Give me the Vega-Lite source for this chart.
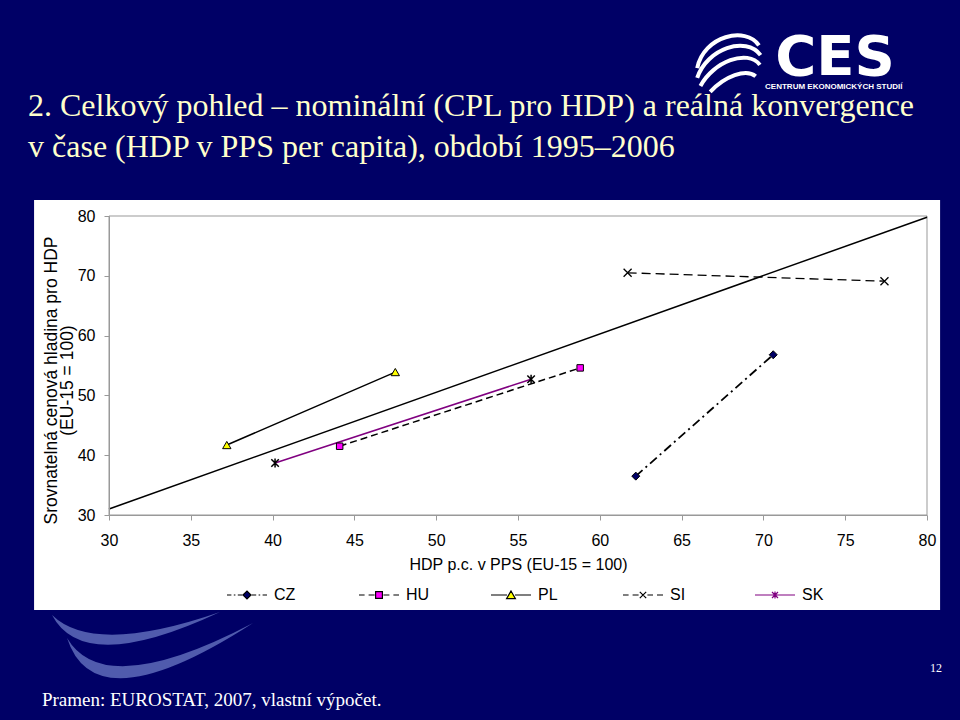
{
  "$schema": "https://vega.github.io/schema/vega-lite/v6.json",
  "width": 818,
  "height": 299,
  "autosize": {"type": "none"},
  "padding": {"left": 109, "top": 216, "right": 33, "bottom": 205},
  "background": "#000066",
  "config": {"view": {"stroke": null}, "font": "Liberation Sans"},
  "resolve": {"axis": {"x": "independent", "y": "independent"}},
  "datasets": {
    "pts": [
      {"country": "CZ", "year": 1995, "hdp": 62.2, "cpl": 36.5},
      {"country": "CZ", "year": 2006, "hdp": 70.6, "cpl": 56.8},
      {"country": "HU", "year": 1995, "hdp": 44.1, "cpl": 41.5},
      {"country": "HU", "year": 2006, "hdp": 58.8, "cpl": 54.6},
      {"country": "PL", "year": 1995, "hdp": 37.2, "cpl": 41.7},
      {"country": "PL", "year": 2006, "hdp": 47.5, "cpl": 53.9},
      {"country": "SI", "year": 1995, "hdp": 61.7, "cpl": 70.5},
      {"country": "SI", "year": 2006, "hdp": 77.4, "cpl": 69.1},
      {"country": "SK", "year": 1995, "hdp": 40.15, "cpl": 38.7},
      {"country": "SK", "year": 2006, "hdp": 55.8, "cpl": 52.7}
    ],
    "trend": [
      {"hdp": 30, "cpl": 31.0},
      {"hdp": 80, "cpl": 79.8}
    ]
  },
  "layer": [
    {
      "data": {"values": [{}]},
      "mark": {"type": "point", "filled": true, "fill": "#7282cc", "strokeWidth": 0, "size": 28224, "shape": "M-1,-0.155Q-0.62,0.57 1,-0.19Q-0.5,0.33 -1,-0.155Z"},
      "encoding": {
        "x": {"datum": 31.65, "type": "quantitative", "scale": {"domain": [30, 80], "nice": false, "zero": false}, "axis": null},
        "y": {"datum": 11.1, "type": "quantitative", "scale": {"domain": [30, 80], "nice": false, "zero": false}, "axis": null}
      }
    },
    {
      "data": {"values": [{}]},
      "mark": {"type": "point", "filled": true, "fill": "#7282cc", "strokeWidth": 0, "size": 34596, "shape": "M-1,-0.13Q-0.7,0.81 1,-0.29Q-0.6,0.55 -1,-0.13Z"},
      "encoding": {
        "x": {"datum": 33.12, "type": "quantitative", "scale": {"domain": [30, 80], "nice": false, "zero": false}, "axis": null},
        "y": {"datum": 7.42, "type": "quantitative", "scale": {"domain": [30, 80], "nice": false, "zero": false}, "axis": null}
      }
    },
    {
      "data": {"values": [{}]},
      "mark": {"type": "rect", "fill": "#FFFFFF"},
      "encoding": {
        "x": {"datum": 25.42, "type": "quantitative", "scale": {"domain": [30, 80], "nice": false, "zero": false}, "axis": null},
        "x2": {"datum": 80.8},
        "y": {"datum": 82.68, "type": "quantitative", "scale": {"domain": [30, 80], "nice": false, "zero": false}, "axis": null},
        "y2": {"datum": 14.11}
      }
    },
    {
      "data": {"values": [{}]},
      "mark": {"type": "rect", "filled": false, "fill": null, "stroke": "#999999", "strokeWidth": 1},
      "encoding": {
        "x": {"datum": 30, "type": "quantitative", "scale": {"domain": [30, 80], "nice": false, "zero": false}, "axis": null},
        "x2": {"datum": 80},
        "y": {"datum": 30, "type": "quantitative", "scale": {"domain": [30, 80], "nice": false, "zero": false}, "axis": null},
        "y2": {"datum": 80}
      }
    },
    {
      "data": {"name": "trend"},
      "mark": {"type": "line", "color": "#000000", "strokeWidth": 1.5},
      "encoding": {
        "x": {
          "field": "hdp", "type": "quantitative",
          "scale": {"domain": [30, 80], "nice": false, "zero": false},
          "axis": {
            "orient": "bottom",
            "values": [30, 35, 40, 45, 50, 55, 60, 65, 70, 75, 80],
            "title": "HDP p.c. v PPS (EU-15 = 100)",
            "grid": false, "domainColor": "#999999", "tickColor": "#999999", "tickSize": 5,
            "labelFontSize": 16, "labelColor": "#000000", "labelFont": "Liberation Sans", "labelPadding": 12,
            "labelFlush": false, "labelOverlap": false,
            "titleFont": "Liberation Sans", "titleFontSize": 16, "titleFontWeight": "normal", "titleColor": "#000000", "titlePadding": 8,
            "zindex": 1
          }
        },
        "y": {
          "field": "cpl", "type": "quantitative",
          "scale": {"domain": [30, 80], "nice": false, "zero": false},
          "axis": {
            "orient": "left",
            "values": [30, 40, 50, 60, 70, 80],
            "title": ["Srovnatelná cenová hladina pro HDP", "(EU-15 = 100)"],
            "grid": false, "domainColor": "#999999", "tickColor": "#999999", "tickSize": 5,
            "labelFontSize": 16, "labelColor": "#000000", "labelFont": "Liberation Sans", "labelPadding": 9,
            "labelFlush": false,
            "titleFont": "Liberation Sans", "titleFontSize": 17.5, "titleFontWeight": "normal", "titleColor": "#000000",
            "titleX": -49, "titleY": 164, "titleAlign": "center", "titleBaseline": "bottom", "titleLineHeight": 16,
            "zindex": 1
          }
        }
      }
    },
    {
      "data": {"name": "pts"},
      "transform": [{"filter": "datum.country === 'CZ'"}],
      "mark": {"type": "line", "color": "#000000", "strokeWidth": 1.8, "strokeDash": [9, 4, 2, 4]},
      "encoding": {
        "x": {"field": "hdp", "type": "quantitative", "scale": {"domain": [30, 80], "nice": false, "zero": false}, "axis": null},
        "y": {"field": "cpl", "type": "quantitative", "scale": {"domain": [30, 80], "nice": false, "zero": false}, "axis": null},
        "order": {"field": "year"}
      }
    },
    {
      "data": {"name": "pts"},
      "transform": [{"filter": "datum.country === 'HU'"}],
      "mark": {"type": "line", "color": "#000000", "strokeWidth": 1.5, "strokeDash": [7, 4]},
      "encoding": {
        "x": {"field": "hdp", "type": "quantitative", "scale": {"domain": [30, 80], "nice": false, "zero": false}, "axis": null},
        "y": {"field": "cpl", "type": "quantitative", "scale": {"domain": [30, 80], "nice": false, "zero": false}, "axis": null},
        "order": {"field": "year"}
      }
    },
    {
      "data": {"name": "pts"},
      "transform": [{"filter": "datum.country === 'PL'"}],
      "mark": {"type": "line", "color": "#000000", "strokeWidth": 1.5},
      "encoding": {
        "x": {"field": "hdp", "type": "quantitative", "scale": {"domain": [30, 80], "nice": false, "zero": false}, "axis": null},
        "y": {"field": "cpl", "type": "quantitative", "scale": {"domain": [30, 80], "nice": false, "zero": false}, "axis": null},
        "order": {"field": "year"}
      }
    },
    {
      "data": {"name": "pts"},
      "transform": [{"filter": "datum.country === 'SI'"}],
      "mark": {"type": "line", "color": "#000000", "strokeWidth": 1.3, "strokeDash": [9, 5]},
      "encoding": {
        "x": {"field": "hdp", "type": "quantitative", "scale": {"domain": [30, 80], "nice": false, "zero": false}, "axis": null},
        "y": {"field": "cpl", "type": "quantitative", "scale": {"domain": [30, 80], "nice": false, "zero": false}, "axis": null},
        "order": {"field": "year"}
      }
    },
    {
      "data": {"name": "pts"},
      "transform": [{"filter": "datum.country === 'SK'"}],
      "mark": {"type": "line", "color": "#800080", "strokeWidth": 1.5},
      "encoding": {
        "x": {"field": "hdp", "type": "quantitative", "scale": {"domain": [30, 80], "nice": false, "zero": false}, "axis": null},
        "y": {"field": "cpl", "type": "quantitative", "scale": {"domain": [30, 80], "nice": false, "zero": false}, "axis": null},
        "order": {"field": "year"}
      }
    },
    {
      "data": {"name": "pts"},
      "transform": [{"filter": "datum.country === 'CZ'"}],
      "mark": {"type": "point", "shape": "diamond", "filled": true, "fill": "#000066", "stroke": "#000000", "strokeWidth": 1, "size": 64, "opacity": 1},
      "encoding": {
        "x": {"field": "hdp", "type": "quantitative", "scale": {"domain": [30, 80], "nice": false, "zero": false}, "axis": null},
        "y": {"field": "cpl", "type": "quantitative", "scale": {"domain": [30, 80], "nice": false, "zero": false}, "axis": null}
      }
    },
    {
      "data": {"name": "pts"},
      "transform": [{"filter": "datum.country === 'HU'"}],
      "mark": {"type": "point", "shape": "square", "filled": true, "fill": "#FF00FF", "stroke": "#000000", "strokeWidth": 1, "size": 42, "opacity": 1},
      "encoding": {
        "x": {"field": "hdp", "type": "quantitative", "scale": {"domain": [30, 80], "nice": false, "zero": false}, "axis": null},
        "y": {"field": "cpl", "type": "quantitative", "scale": {"domain": [30, 80], "nice": false, "zero": false}, "axis": null}
      }
    },
    {
      "data": {"name": "pts"},
      "transform": [{"filter": "datum.country === 'PL'"}],
      "mark": {"type": "point", "shape": "triangle-up", "filled": true, "fill": "#FFFF00", "stroke": "#000000", "strokeWidth": 1, "size": 70, "opacity": 1},
      "encoding": {
        "x": {"field": "hdp", "type": "quantitative", "scale": {"domain": [30, 80], "nice": false, "zero": false}, "axis": null},
        "y": {"field": "cpl", "type": "quantitative", "scale": {"domain": [30, 80], "nice": false, "zero": false}, "axis": null}
      }
    },
    {
      "data": {"name": "pts"},
      "transform": [{"filter": "datum.country === 'SI'"}],
      "mark": {"type": "point", "shape": "M-1,-1L1,1M-1,1L1,-1", "filled": false, "stroke": "#000000", "strokeWidth": 1.3, "size": 64, "opacity": 1},
      "encoding": {
        "x": {"field": "hdp", "type": "quantitative", "scale": {"domain": [30, 80], "nice": false, "zero": false}, "axis": null},
        "y": {"field": "cpl", "type": "quantitative", "scale": {"domain": [30, 80], "nice": false, "zero": false}, "axis": null}
      }
    },
    {
      "data": {"name": "pts"},
      "transform": [{"filter": "datum.country === 'SK'"}],
      "mark": {"type": "point", "shape": "M-1,-1L1,1M-1,1L1,-1M0,-1.2L0,1.2", "filled": false, "stroke": "#000000", "strokeWidth": 1.5, "size": 56, "opacity": 1},
      "encoding": {
        "x": {"field": "hdp", "type": "quantitative", "scale": {"domain": [30, 80], "nice": false, "zero": false}, "axis": null},
        "y": {"field": "cpl", "type": "quantitative", "scale": {"domain": [30, 80], "nice": false, "zero": false}, "axis": null}
      }
    },
    {
      "data": {"name": "pts"},
      "mark": {"type": "point", "opacity": 0},
      "encoding": {
        "x": {"field": "hdp", "type": "quantitative", "scale": {"domain": [30, 80], "nice": false, "zero": false}, "axis": null},
        "y": {"field": "cpl", "type": "quantitative", "scale": {"domain": [30, 80], "nice": false, "zero": false}, "axis": null},
        "shape": {
          "field": "country", "type": "nominal",
          "scale": {
            "domain": ["CZ", "HU", "PL", "SI", "SK"],
            "range": [
              "M-1,0H-0.78M-0.66,0H-0.58M-0.46,0H-0.24M-0.2,0L0,-0.2L0.2,0L0,0.2ZM0.24,0H0.46M0.58,0H0.66M0.78,0H1",
              "M-1,0H-0.72M-0.52,0H-0.22M-0.17,-0.17H0.17V0.17H-0.17ZM0.22,0H0.52M0.72,0H1",
              "M-1,0H-0.2M0.2,0H1M0,-0.2L0.22,0.18H-0.22Z",
              "M-1,0H-0.72M-0.52,0H-0.22M-0.16,-0.16L0.16,0.16M-0.16,0.16L0.16,-0.16M0.22,0H0.5M0.7,0H1",
              "M-1,0H1M-0.15,-0.15L0.15,0.15M-0.15,0.15L0.15,-0.15M0,-0.18V0.18"
            ]
          },
          "legend": {
            "title": null, "orient": "none", "legendX": 117, "legendY": 358, "direction": "horizontal",
            "gridAlign": "all", "columnPadding": 58, "symbolSize": 1600, "symbolStrokeWidth": 1.2, "symbolOpacity": 1,
            "labelFontSize": 16, "labelFont": "Liberation Sans", "labelColor": "#000000", "labelOffset": 6
          }
        },
        "fill": {
          "field": "country", "type": "nominal",
          "scale": {"domain": ["CZ", "HU", "PL", "SI", "SK"], "range": ["#000066", "#FF00FF", "#FFFF00", "transparent", "transparent"]}
        },
        "stroke": {
          "field": "country", "type": "nominal",
          "scale": {"domain": ["CZ", "HU", "PL", "SI", "SK"], "range": ["#000000", "#000000", "#000000", "#000000", "#800080"]}
        }
      }
    },
    {
      "data": {"values": [{}]},
      "mark": {"type": "text", "text": "2. Celkový pohled – nominální (CPL pro HDP) a reálná konvergence", "font": "Liberation Serif", "fontSize": 32, "fill": "#FFFFCC", "align": "left", "baseline": "alphabetic"},
      "encoding": {
        "x": {"datum": 25.05, "type": "quantitative", "scale": {"domain": [30, 80], "nice": false, "zero": false}, "axis": null},
        "y": {"datum": 96.72, "type": "quantitative", "scale": {"domain": [30, 80], "nice": false, "zero": false}, "axis": null}
      }
    },
    {
      "data": {"values": [{}]},
      "mark": {"type": "text", "text": "v čase (HDP v PPS per capita), období 1995–2006", "font": "Liberation Serif", "fontSize": 32, "fill": "#FFFFCC", "align": "left", "baseline": "alphabetic"},
      "encoding": {
        "x": {"datum": 25.05, "type": "quantitative", "scale": {"domain": [30, 80], "nice": false, "zero": false}, "axis": null},
        "y": {"datum": 89.87, "type": "quantitative", "scale": {"domain": [30, 80], "nice": false, "zero": false}, "axis": null}
      }
    },
    {
      "data": {"values": [{}]},
      "mark": {"type": "text", "text": "Pramen: EUROSTAT, 2007, vlastní výpočet.", "font": "Liberation Serif", "fontSize": 19, "fill": "#FFFFFF", "align": "left", "baseline": "alphabetic"},
      "encoding": {
        "x": {"datum": 25.9, "type": "quantitative", "scale": {"domain": [30, 80], "nice": false, "zero": false}, "axis": null},
        "y": {"datum": -1.94, "type": "quantitative", "scale": {"domain": [30, 80], "nice": false, "zero": false}, "axis": null}
      }
    },
    {
      "data": {"values": [{}]},
      "mark": {"type": "text", "text": "12", "font": "Liberation Serif", "fontSize": 12, "fill": "#FFFFFF", "align": "center", "baseline": "alphabetic"},
      "encoding": {
        "x": {"datum": 80.55, "type": "quantitative", "scale": {"domain": [30, 80], "nice": false, "zero": false}, "axis": null},
        "y": {"datum": 3.75, "type": "quantitative", "scale": {"domain": [30, 80], "nice": false, "zero": false}, "axis": null}
      }
    },
    {
      "data": {"values": [{}]},
      "mark": {"type": "text", "text": "CES", "font": "DejaVu Sans", "fontWeight": "bold", "fontSize": 56, "fill": "#FFFFFF", "align": "center", "baseline": "alphabetic"},
      "encoding": {
        "x": {"datum": 74.38, "type": "quantitative", "scale": {"domain": [30, 80], "nice": false, "zero": false}, "axis": null},
        "y": {"datum": 103.6, "type": "quantitative", "scale": {"domain": [30, 80], "nice": false, "zero": false}, "axis": null}
      }
    },
    {
      "data": {"values": [{}]},
      "mark": {"type": "text", "text": "CENTRUM EKONOMICKÝCH STUDIÍ", "font": "Liberation Sans", "fontWeight": "bold", "fontSize": 8, "fill": "#FFFFFF", "align": "center", "baseline": "alphabetic"},
      "encoding": {
        "x": {"datum": 74.3, "type": "quantitative", "scale": {"domain": [30, 80], "nice": false, "zero": false}, "axis": null},
        "y": {"datum": 101.24, "type": "quantitative", "scale": {"domain": [30, 80], "nice": false, "zero": false}, "axis": null}
      }
    },
    {
      "data": {"values": [{}]},
      "mark": {"type": "point", "filled": false, "stroke": "#FFFFFF", "strokeWidth": 4, "size": 4225, "opacity": 1,
        "shape": "M-0.95,0.25C-0.75,-0.75 0.55,-1.05 0.95,-0.45M-0.95,0.55C-0.65,-0.35 0.55,-0.75 1,-0.15M-0.85,0.8C-0.45,0.05 0.6,-0.35 0.98,0.15M-0.55,0.98C-0.1,0.5 0.55,0.25 0.85,0.5"},
      "encoding": {
        "x": {"datum": 67.84, "type": "quantitative", "scale": {"domain": [30, 80], "nice": false, "zero": false}, "axis": null},
        "y": {"datum": 106.09, "type": "quantitative", "scale": {"domain": [30, 80], "nice": false, "zero": false}, "axis": null}
      }
    }
  ]
}
